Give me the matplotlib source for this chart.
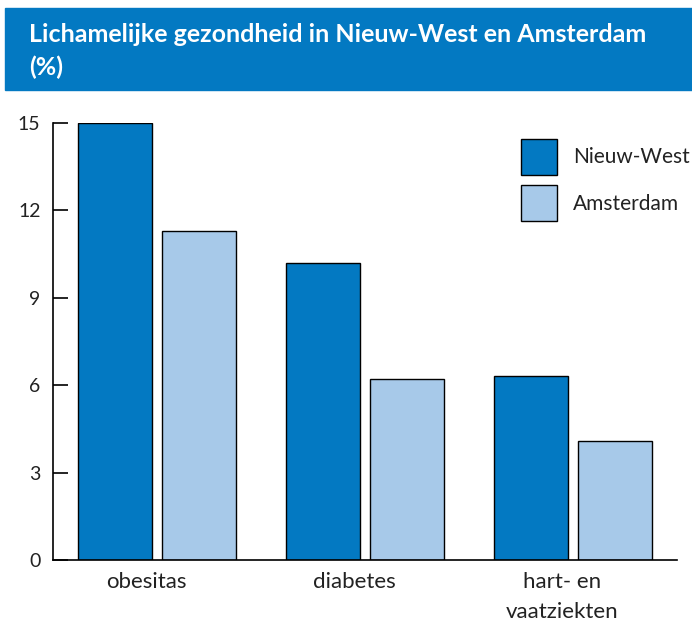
import numpy as np
import matplotlib.pyplot as plt
from matplotlib.patches import Rectangle

plt.rcParams['font.family'] = ['Lato', 'DejaVu Sans']

categories = ['obesitas', 'diabetes', 'hart- en\nvaatziekten']
nieuw_west = [15.0, 10.2, 6.3]
amsterdam = [11.3, 6.2, 4.1]
series_names = ['Nieuw-West', 'Amsterdam']
yticks = [0, 3, 6, 9, 12, 15]

dark_blue = '#0379c2'
light_blue = '#a7c9e9'
text_col = '#222222'

fig = plt.figure(figsize=(6.92, 6.24), dpi=100)

# blauwe titelbalk
fig.patches.append(Rectangle((5 / 692, 1 - 90 / 624), 687 / 692, 82 / 624,
                             transform=fig.transFigure, color=dark_blue, zorder=0))
fig.text(29 / 692, 1 - 23 / 624, 'Lichamelijke gezondheid in Nieuw-West en Amsterdam\n(%)',
         color='white', fontsize=18, fontweight='bold', va='top', ha='left',
         linespacing=1.5)

ax = fig.add_axes([53 / 692, 64 / 624, 624 / 692, 437 / 624])

x = np.arange(len(categories))
w = 0.36
off = 0.202
ax.bar(x - off, nieuw_west, w, color=dark_blue, edgecolor='black', linewidth=1,
       label=series_names[0])
ax.bar(x + off, amsterdam, w, color=light_blue, edgecolor='black', linewidth=1,
       label=series_names[1])

ax.set_xlim(-0.5, 2.5)
ax.set_ylim(0, 15)
ax.set_yticks(yticks)
# labels staan iets links van het midden van de groep
ax.set_xticks(x - 0.053)
ax.set_xticklabels(categories, fontsize=16, color=text_col, linespacing=1.6)
ax.tick_params(axis='x', length=0, pad=9)
ax.tick_params(axis='y', direction='in', length=11, width=1.2, labelsize=14,
               labelcolor=text_col, pad=9)

for s in ['top', 'right']:
    ax.spines[s].set_visible(False)
for s in ['left', 'bottom']:
    ax.spines[s].set_linewidth(1.2)

ax.legend(loc='upper left', bbox_to_anchor=(521 / 692, 1 - 139 / 624),
          bbox_transform=fig.transFigure, frameon=False, fontsize=15,
          handlelength=1.73, handleheight=2.285, labelspacing=0.48,
          handletextpad=0.77, borderpad=0, borderaxespad=0, labelcolor=text_col)

fig.savefig('out.png', dpi=100)
